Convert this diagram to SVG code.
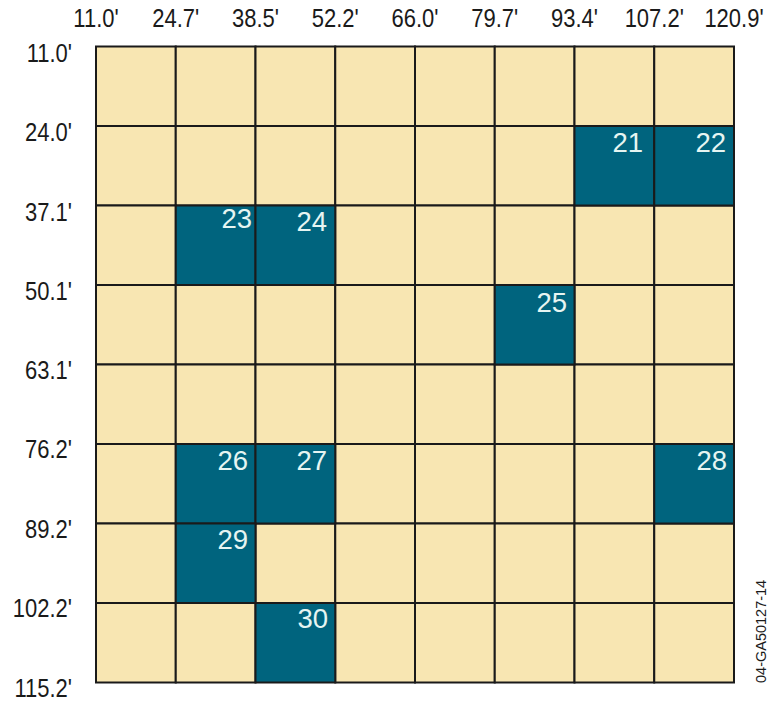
<svg xmlns="http://www.w3.org/2000/svg" width="769" height="701" viewBox="0 0 769 701">
<style>
.c{fill:#F8E6B2;stroke:#1a1a1a;stroke-width:2}
.t{fill:#00647E;stroke:#1a1a1a;stroke-width:2}
.ax{font-family:"Liberation Sans",Arial,sans-serif;font-size:22px;fill:#1a1a1a}
.top{text-anchor:middle}
.left{text-anchor:end}
.n{font-family:"Liberation Sans",Arial,sans-serif;font-size:27.5px;fill:#E6F5F2;text-anchor:end}
.code{font-family:"Liberation Sans",Arial,sans-serif;font-size:14.5px;fill:#1a1a1a}
</style>
<rect width="769" height="701" fill="#ffffff"/>
<g id="cells">
<g id="row0">
<rect class="c" x="96" y="46.5" width="79.75" height="79.5"/><rect class="c" x="175.75" y="46.5" width="79.75" height="79.5"/><rect class="c" x="255.5" y="46.5" width="79.75" height="79.5"/><rect class="c" x="335.25" y="46.5" width="79.75" height="79.5"/><rect class="c" x="415" y="46.5" width="79.75" height="79.5"/><rect class="c" x="494.75" y="46.5" width="79.75" height="79.5"/><rect class="c" x="574.5" y="46.5" width="79.75" height="79.5"/><rect class="c" x="654.25" y="46.5" width="79.75" height="79.5"/>
</g>
<g id="row1">
<rect class="c" x="96" y="126" width="79.75" height="79.5"/><rect class="c" x="175.75" y="126" width="79.75" height="79.5"/><rect class="c" x="255.5" y="126" width="79.75" height="79.5"/><rect class="c" x="335.25" y="126" width="79.75" height="79.5"/><rect class="c" x="415" y="126" width="79.75" height="79.5"/><rect class="c" x="494.75" y="126" width="79.75" height="79.5"/>
</g>
<g id="row2">
<rect class="c" x="96" y="205.5" width="79.75" height="79.5"/><rect class="c" x="335.25" y="205.5" width="79.75" height="79.5"/><rect class="c" x="415" y="205.5" width="79.75" height="79.5"/><rect class="c" x="494.75" y="205.5" width="79.75" height="79.5"/><rect class="c" x="574.5" y="205.5" width="79.75" height="79.5"/><rect class="c" x="654.25" y="205.5" width="79.75" height="79.5"/>
</g>
<g id="row3">
<rect class="c" x="96" y="285" width="79.75" height="79.5"/><rect class="c" x="175.75" y="285" width="79.75" height="79.5"/><rect class="c" x="255.5" y="285" width="79.75" height="79.5"/><rect class="c" x="335.25" y="285" width="79.75" height="79.5"/><rect class="c" x="415" y="285" width="79.75" height="79.5"/><rect class="c" x="574.5" y="285" width="79.75" height="79.5"/><rect class="c" x="654.25" y="285" width="79.75" height="79.5"/>
</g>
<g id="row4">
<rect class="c" x="96" y="364.5" width="79.75" height="79.5"/><rect class="c" x="175.75" y="364.5" width="79.75" height="79.5"/><rect class="c" x="255.5" y="364.5" width="79.75" height="79.5"/><rect class="c" x="335.25" y="364.5" width="79.75" height="79.5"/><rect class="c" x="415" y="364.5" width="79.75" height="79.5"/><rect class="c" x="494.75" y="364.5" width="79.75" height="79.5"/><rect class="c" x="574.5" y="364.5" width="79.75" height="79.5"/><rect class="c" x="654.25" y="364.5" width="79.75" height="79.5"/>
</g>
<g id="row5">
<rect class="c" x="96" y="444" width="79.75" height="79.5"/><rect class="c" x="335.25" y="444" width="79.75" height="79.5"/><rect class="c" x="415" y="444" width="79.75" height="79.5"/><rect class="c" x="494.75" y="444" width="79.75" height="79.5"/><rect class="c" x="574.5" y="444" width="79.75" height="79.5"/>
</g>
<g id="row6">
<rect class="c" x="96" y="523.5" width="79.75" height="79.5"/><rect class="c" x="255.5" y="523.5" width="79.75" height="79.5"/><rect class="c" x="335.25" y="523.5" width="79.75" height="79.5"/><rect class="c" x="415" y="523.5" width="79.75" height="79.5"/><rect class="c" x="494.75" y="523.5" width="79.75" height="79.5"/><rect class="c" x="574.5" y="523.5" width="79.75" height="79.5"/><rect class="c" x="654.25" y="523.5" width="79.75" height="79.5"/>
</g>
<g id="row7">
<rect class="c" x="96" y="603" width="79.75" height="79.5"/><rect class="c" x="175.75" y="603" width="79.75" height="79.5"/><rect class="c" x="335.25" y="603" width="79.75" height="79.5"/><rect class="c" x="415" y="603" width="79.75" height="79.5"/><rect class="c" x="494.75" y="603" width="79.75" height="79.5"/><rect class="c" x="574.5" y="603" width="79.75" height="79.5"/><rect class="c" x="654.25" y="603" width="79.75" height="79.5"/>
</g>
</g>
<g id="node21"><rect class="t" x="574.5" y="126" width="79.75" height="79.5"/><text class="n" x="643" y="152">21</text></g>
<g id="node22"><rect class="t" x="654.25" y="126" width="79.75" height="79.5"/><text class="n" x="726" y="152">22</text></g>
<g id="node23"><rect class="t" x="175.75" y="205.5" width="79.75" height="79.5"/><text class="n" x="252" y="228">23</text></g>
<g id="node24"><rect class="t" x="255.5" y="205.5" width="79.75" height="79.5"/><text class="n" x="327" y="231">24</text></g>
<g id="node25"><rect class="t" x="494.75" y="285" width="79.75" height="79.5"/><text class="n" x="567" y="312">25</text></g>
<g id="node26"><rect class="t" x="175.75" y="444" width="79.75" height="79.5"/><text class="n" x="248" y="470">26</text></g>
<g id="node27"><rect class="t" x="255.5" y="444" width="79.75" height="79.5"/><text class="n" x="327" y="470">27</text></g>
<g id="node28"><rect class="t" x="654.25" y="444" width="79.75" height="79.5"/><text class="n" x="727" y="470">28</text></g>
<g id="node29"><rect class="t" x="175.75" y="523.5" width="79.75" height="79.5"/><text class="n" x="248" y="549">29</text></g>
<g id="node30"><rect class="t" x="255.5" y="603" width="79.75" height="79.5"/><text class="n" x="328" y="628">30</text></g>
<g id="connectors"></g>
<g id="top-axis" class="ax top">
<text transform="translate(96,27) scale(1,1.15)">11.0'</text><text transform="translate(175.75,27) scale(1,1.15)">24.7'</text><text transform="translate(255.5,27) scale(1,1.15)">38.5'</text><text transform="translate(335.25,27) scale(1,1.15)">52.2'</text><text transform="translate(415,27) scale(1,1.15)">66.0'</text><text transform="translate(494.75,27) scale(1,1.15)">79.7'</text><text transform="translate(574.5,27) scale(1,1.15)">93.4'</text><text transform="translate(654.25,27) scale(1,1.15)">107.2'</text><text transform="translate(734,27) scale(1,1.15)">120.9'</text>
</g>
<g id="left-axis" class="ax left">
<text transform="translate(72,62) scale(1,1.15)">11.0'</text><text transform="translate(72,141) scale(1,1.15)">24.0'</text><text transform="translate(72,221) scale(1,1.15)">37.1'</text><text transform="translate(72,300) scale(1,1.15)">50.1'</text><text transform="translate(72,379) scale(1,1.15)">63.1'</text><text transform="translate(72,458) scale(1,1.15)">76.2'</text><text transform="translate(72,538) scale(1,1.15)">89.2'</text><text transform="translate(72,617) scale(1,1.15)">102.2'</text><text transform="translate(72,697) scale(1,1.15)">115.2'</text>
</g>
<text class="code" transform="translate(766,683) rotate(-90)">04-GA50127-14</text>
</svg>
